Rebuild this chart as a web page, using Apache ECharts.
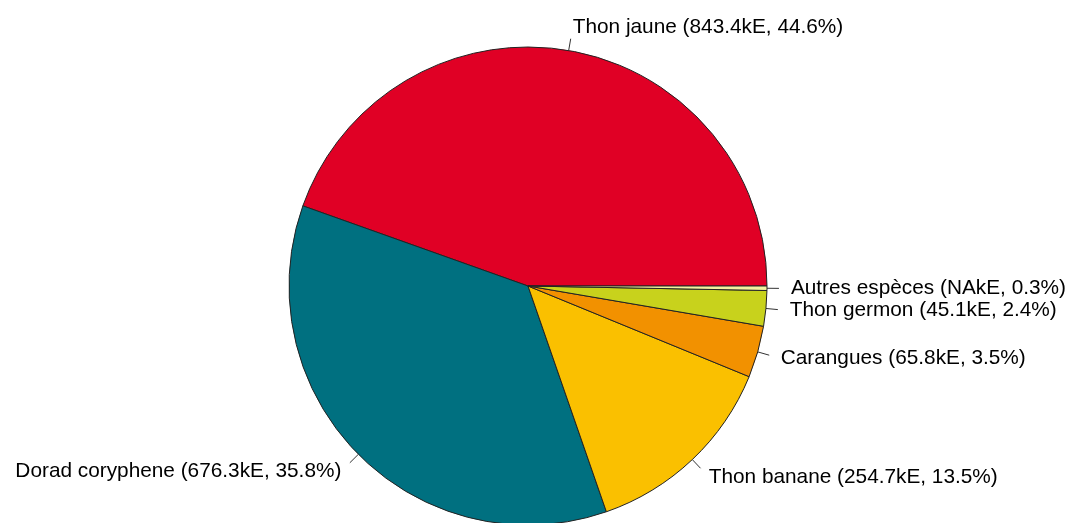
<!DOCTYPE html>
<html>
<head>
<meta charset="utf-8">
<script src="https://cdn.jsdelivr.net/npm/echarts@6/dist/echarts.min.js"></script>
<style>
html,body{margin:0;padding:0;background:#fff;}
#chart{width:1079px;height:523px;}
</style>
</head>
<body>
<div id="chart"></div>
<script>
var categories = ["Thon jaune", "Dorad coryphene", "Thon banane", "Carangues", "Thon germon", "Autres espèces"];
var amountLabels = ["843.4", "676.3", "254.7", "65.8", "45.1", "NA"];
var percentages = [44.6, 35.8, 13.5, 3.5, 2.4, 0.3];
var colors = ["#E00025", "#007080", "#FAC000", "#F29100", "#C8D21C", "#F2F2A0"];

var RADIUS = 239;
var LINE_LEN = 0.05 * RADIUS;   // tick from r to 1.05r
var TEXT_DIST = 0.10 * RADIUS;  // text anchored at 1.1r

var chart = echarts.init(document.getElementById('chart'), null, {renderer: 'canvas'});
var data = categories.map(function (c, i) {
  return {
    name: c,
    value: percentages[i],
    itemStyle: {color: colors[i]},
    label: {formatter: c + ' (' + amountLabels[i] + 'kE, ' + percentages[i].toFixed(1) + '%)'}
  };
});
chart.setOption({
  animation: false,
  series: [{
    type: 'pie',
    center: [528, 286],
    radius: [0, RADIUS],
    startAngle: 0,
    clockwise: false,
    avoidLabelOverlap: false,
    data: data,
    itemStyle: {borderColor: '#222', borderWidth: 1},
    label: {
      show: true,
      position: 'outside',
      alignTo: 'none',
      color: '#000',
      fontFamily: 'Liberation Sans, Arial, sans-serif',
      fontSize: 20.8,
      distanceToLabelLine: 0
    },
    labelLine: {
      show: true,
      length: LINE_LEN,
      length2: 0,
      lineStyle: {color: '#333', width: 1}
    },
    labelLayout: function (params) {
      var pts = params.labelLinePoints;
      if (!pts) return {};
      var p0 = pts[0], p1 = pts[1];
      var k = TEXT_DIST / LINE_LEN;
      return {
        x: p0[0] + (p1[0] - p0[0]) * k,
        y: p0[1] + (p1[1] - p0[1]) * k,
        labelLinePoints: [p0, p1, p1]
      };
    },
    emphasis: {disabled: true}
  }]
});
</script>
</body>
</html>
